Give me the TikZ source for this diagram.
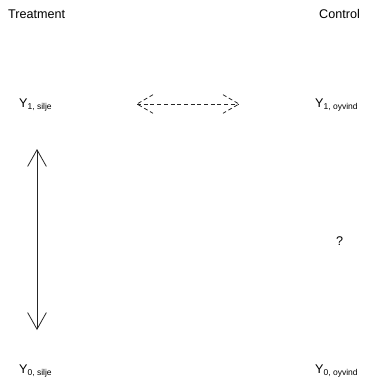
\documentclass[tikz,border=0pt]{standalone}
\usepackage{fontspec}
\setmainfont{Liberation Sans}
\usetikzlibrary{arrows.meta,calc}
\newcommand{\Ysub}[1]{Y\raisebox{-2.5pt}{\fontsize{8.5}{10}\selectfont #1}}
\tikzset{
  lbl/.style={anchor=base west, inner sep=0pt, font=\fontsize{12.6}{14}\selectfont},
  conn/.style={line width=0.8pt, black!85},
  dashconn/.style={conn, dash pattern=on 4pt off 2.7pt},
  tipend/.tip={Straight Barb[length=16.7pt, width=18.8pt, line width=0.8pt]}
}
\begin{document}
\begin{tikzpicture}[x=1pt, y=-1pt]
  \useasboundingbox (0,0) rectangle (365,383);
  \node[lbl] (treat) at (8,18) {Treatment};
  \node[lbl] (ctrl) at (319,18) {Control};
  \node[lbl] (y1s) at (19,107) {\Ysub{1, silje}};
  \node[lbl] (y1o) at (315,107) {\Ysub{1, oyvind}};
  \node[lbl] (y0s) at (19,373) {\Ysub{0, silje}};
  \node[lbl] (y0o) at (315,373) {\Ysub{0, oyvind}};
  \node[lbl] (q) at (336,245) {?};
  % vertical solid double arrow
  \coordinate (vtop) at (37,149);
  \coordinate (vbot) at (37,330);
  \draw[conn, tipend-tipend] (vtop) -- (vbot);
  % dashed horizontal double arrow
  \coordinate (dl) at (137,104);
  \coordinate (dr) at (239,104);
  \draw[dashconn] (dl) -- (dr);
  \draw[dashconn] ($(dl)+(16,-9.3)$) -- (dl) -- ($(dl)+(16,9.3)$);
  \draw[dashconn] ($(dr)+(-16,-9.3)$) -- (dr) -- ($(dr)+(-16,9.3)$);
\end{tikzpicture}
\end{document}
